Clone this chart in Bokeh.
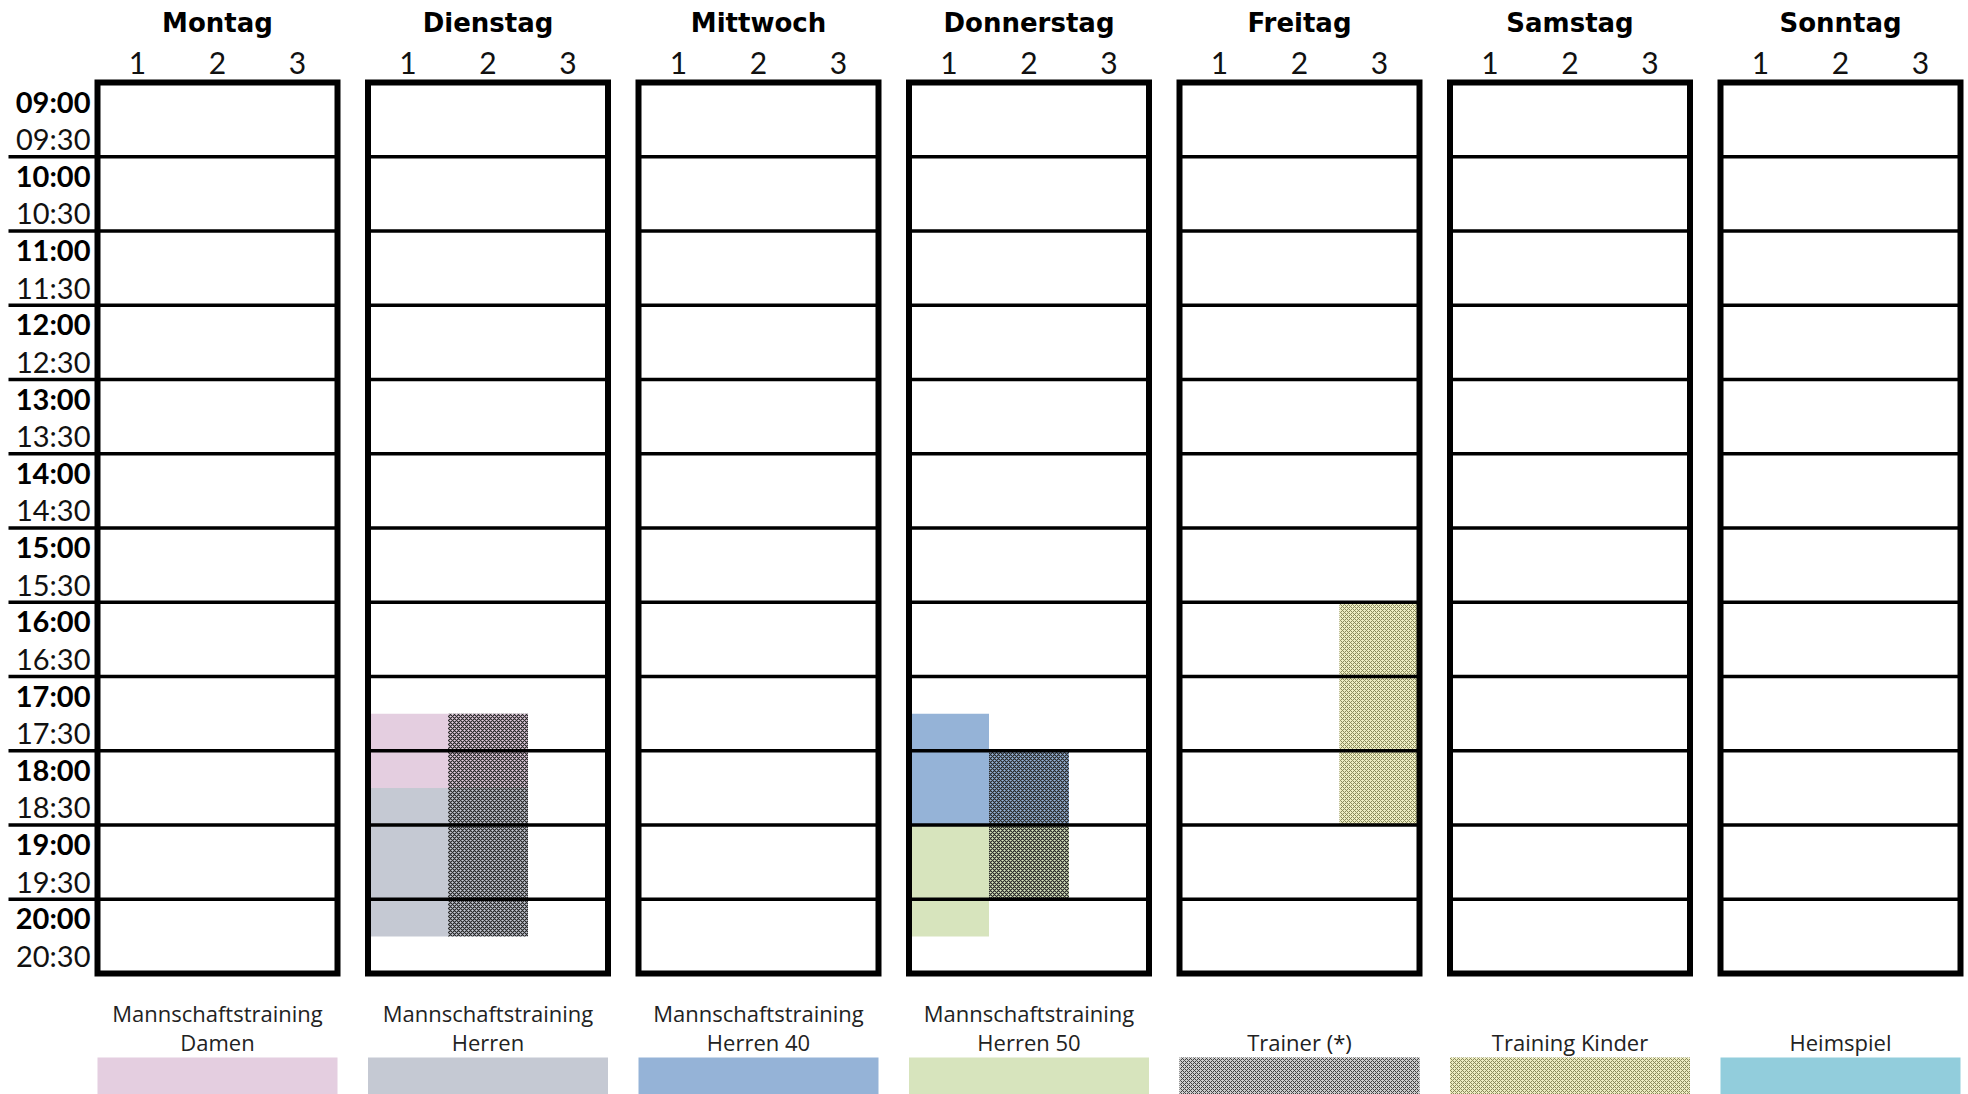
from bokeh.plotting import figure
from bokeh.models import Range1d
from bokeh.core.properties import value
from bokeh.embed import file_html
from bokeh.resources import INLINE

# ---------------- data ----------------
days = ["Montag", "Dienstag", "Mittwoch", "Donnerstag", "Freitag", "Samstag", "Sonntag"]
courts = ["1", "2", "3"]
hour_starts = [9, 10, 11, 12, 13, 14, 15, 16, 17, 18, 19, 20]
hour_labels = ["09:00", "10:00", "11:00", "12:00", "13:00", "14:00",
               "15:00", "16:00", "17:00", "18:00", "19:00", "20:00"]
half_labels = ["09:30", "10:30", "11:30", "12:30", "13:30", "14:30",
               "15:30", "16:30", "17:30", "18:30", "19:30", "20:30"]
day_end = 21

legend_line1 = ["Mannschaftstraining", "Mannschaftstraining", "Mannschaftstraining",
                "Mannschaftstraining", "", "", ""]
legend_line2 = ["Damen", "Herren", "Herren 40", "Herren 50",
                "Trainer (*)", "Training Kinder", "Heimspiel"]
legend_keys = ["Damen", "Herren", "Herren 40", "Herren 50", "Trainer", "Kinder", "Heimspiel"]

# team trainings
team_day = ["Dienstag", "Dienstag", "Donnerstag", "Donnerstag"]
team_court = [1, 1, 1, 1]
team_start = [17.5, 18.5, 17.5, 19.0]
team_end = [18.5, 20.5, 19.0, 20.5]
team_cat = ["Damen", "Herren", "Herren 40", "Herren 50"]

# trainer sessions (with the team they train)
trainer_day = ["Dienstag", "Dienstag", "Donnerstag", "Donnerstag"]
trainer_court = [2, 2, 2, 2]
trainer_start = [17.5, 18.5, 18.0, 19.0]
trainer_end = [18.5, 20.5, 19.0, 20.0]
trainer_team = ["Damen", "Herren", "Herren 40", "Herren 50"]

# children's training
kids_day = ["Freitag"]
kids_court = [3]
kids_start = [16.0]
kids_end = [19.0]

# ---------------- styles / layout ----------------
colors = {
    "Damen": "#E4CEE0",
    "Herren": "#C5C9D3",
    "Herren 40": "#95B3D7",
    "Herren 50": "#D7E4BD",
    "Trainer": "#CDCDCD",
    "Kinder": "#EDEDC2",
    "Heimspiel": "#92CDDC",
}
hatch_map = {"Trainer": "#404040", "Kinder": "#88885A"}
HATCH = dict(hatch_pattern="x", hatch_scale=4, hatch_weight=1.0)
CELL_TRAINER_HATCH = dict(hatch_pattern="x", hatch_scale=4, hatch_weight=1.15,
                          hatch_color="#262626")

W, H = 1968, 1094
COL_PX = 80.0
PITCH = 270.5 / COL_PX
LEFT_PX = 97.0
TOP_PX = 82.0
HOUR_PX = 74.25
LINE_EXT = (8 - LEFT_PX) / COL_PX

x_start = -LEFT_PX / COL_PX
x_end = (W - LEFT_PX) / COL_PX
y_top = 9 - TOP_PX / HOUR_PX
y_bottom = 9 + (H - TOP_PX) / HOUR_PX

p = figure(width=W, height=H, output_backend="svg", toolbar_location=None,
           x_range=Range1d(x_start, x_end), y_range=Range1d(y_bottom, y_top),
           x_axis_type=None, y_axis_type=None, min_border=0)
p.grid.visible = False
p.outline_line_color = None
p.background_fill_color = "white"

di = {d: i for i, d in enumerate(days)}

# team fills
p.quad(left=[di[d] * PITCH + c - 1 for d, c in zip(team_day, team_court)],
       right=[di[d] * PITCH + c for d, c in zip(team_day, team_court)],
       top=team_start, bottom=team_end,
       fill_color=[colors[t] for t in team_cat], line_color=None)

# trainer fills (hatch over the team's colour)
p.quad(left=[di[d] * PITCH + c - 1 for d, c in zip(trainer_day, trainer_court)],
       right=[di[d] * PITCH + c for d, c in zip(trainer_day, trainer_court)],
       top=trainer_start, bottom=trainer_end,
       fill_color=[colors[t] for t in trainer_team], line_color=None,
       **CELL_TRAINER_HATCH)

# kids fills
p.quad(left=[di[d] * PITCH + c - 1 for d, c in zip(kids_day, kids_court)],
       right=[di[d] * PITCH + c for d, c in zip(kids_day, kids_court)],
       top=kids_start, bottom=kids_end,
       fill_color=colors["Kinder"], line_color=None,
       hatch_color=hatch_map["Kinder"], **HATCH)

# hour lines
x0s, x1s, ys = [], [], []
for i, d in enumerate(days):
    for h in hour_starts[1:]:
        x0s.append(LINE_EXT if i == 0 else i * PITCH)
        x1s.append(i * PITCH + len(courts))
        ys.append(h)
p.segment(x0=x0s, y0=ys, x1=x1s, y1=ys, line_color="black", line_width=3.5)

# day boxes
p.quad(left=[i * PITCH for i in range(len(days))],
       right=[i * PITCH + len(courts) for i in range(len(days))],
       top=hour_starts[0], bottom=day_end, fill_color=None,
       line_color="black", line_width=6, line_join="miter")

# day names
p.text(x=[i * PITCH + len(courts) / 2 for i in range(len(days))],
       y=[9 - (TOP_PX - 22) / HOUR_PX] * len(days),
       text=days, text_font=value("DejaVu Sans"), text_font_style="bold",
       text_font_size="26px", text_align="center", text_baseline="middle",
       text_color="black")

# court numbers
cx, cy, ct = [], [], []
for i in range(len(days)):
    for j, c in enumerate(courts):
        cx.append(i * PITCH + j + 0.5)
        cy.append(9 - (TOP_PX - 62) / HOUR_PX)
        ct.append(c)
p.text(x=cx, y=cy, text=ct, text_font=value("Lato"), text_font_size="30px",
       text_align="center", text_baseline="middle", text_color="#111111")

# time labels
tx = (90 - LEFT_PX) / COL_PX
p.text(x=[tx] * len(hour_starts), y=[h + 0.25 for h in hour_starts], text=hour_labels,
       text_font=value("Lato"), text_font_style="bold", text_font_size="29px",
       text_align="right", text_baseline="middle", text_color="black")
p.text(x=[tx] * len(hour_starts), y=[h + 0.755 for h in hour_starts], text=half_labels,
       text_font=value("Lato"), text_font_size="29px",
       text_align="right", text_baseline="middle", text_color="#111111")

# legend
lx = [i * PITCH + len(courts) / 2 for i in range(len(days))]
p.text(x=lx, y=[21.53] * len(days), text=legend_line1, text_font=value("Open Sans"),
       text_font_size="22px", text_align="center", text_baseline="middle", text_color="#222222")
p.text(x=lx, y=[21.92] * len(days), text=legend_line2, text_font=value("Open Sans"),
       text_font_size="22px", text_align="center", text_baseline="middle", text_color="#222222")

sw_plain = [k for k in legend_keys if k not in hatch_map]
p.quad(left=[legend_keys.index(k) * PITCH for k in sw_plain],
       right=[legend_keys.index(k) * PITCH + len(courts) for k in sw_plain],
       top=22.13, bottom=y_bottom + 0.5, fill_color=[colors[k] for k in sw_plain], line_color=None)
for k, hc in hatch_map.items():
    i = legend_keys.index(k)
    p.quad(left=[i * PITCH], right=[i * PITCH + len(courts)], top=22.13, bottom=y_bottom + 0.5,
           fill_color=colors[k], line_color=None, hatch_color=hc, **HATCH)

open("out.html", "w").write(file_html(p, INLINE))
